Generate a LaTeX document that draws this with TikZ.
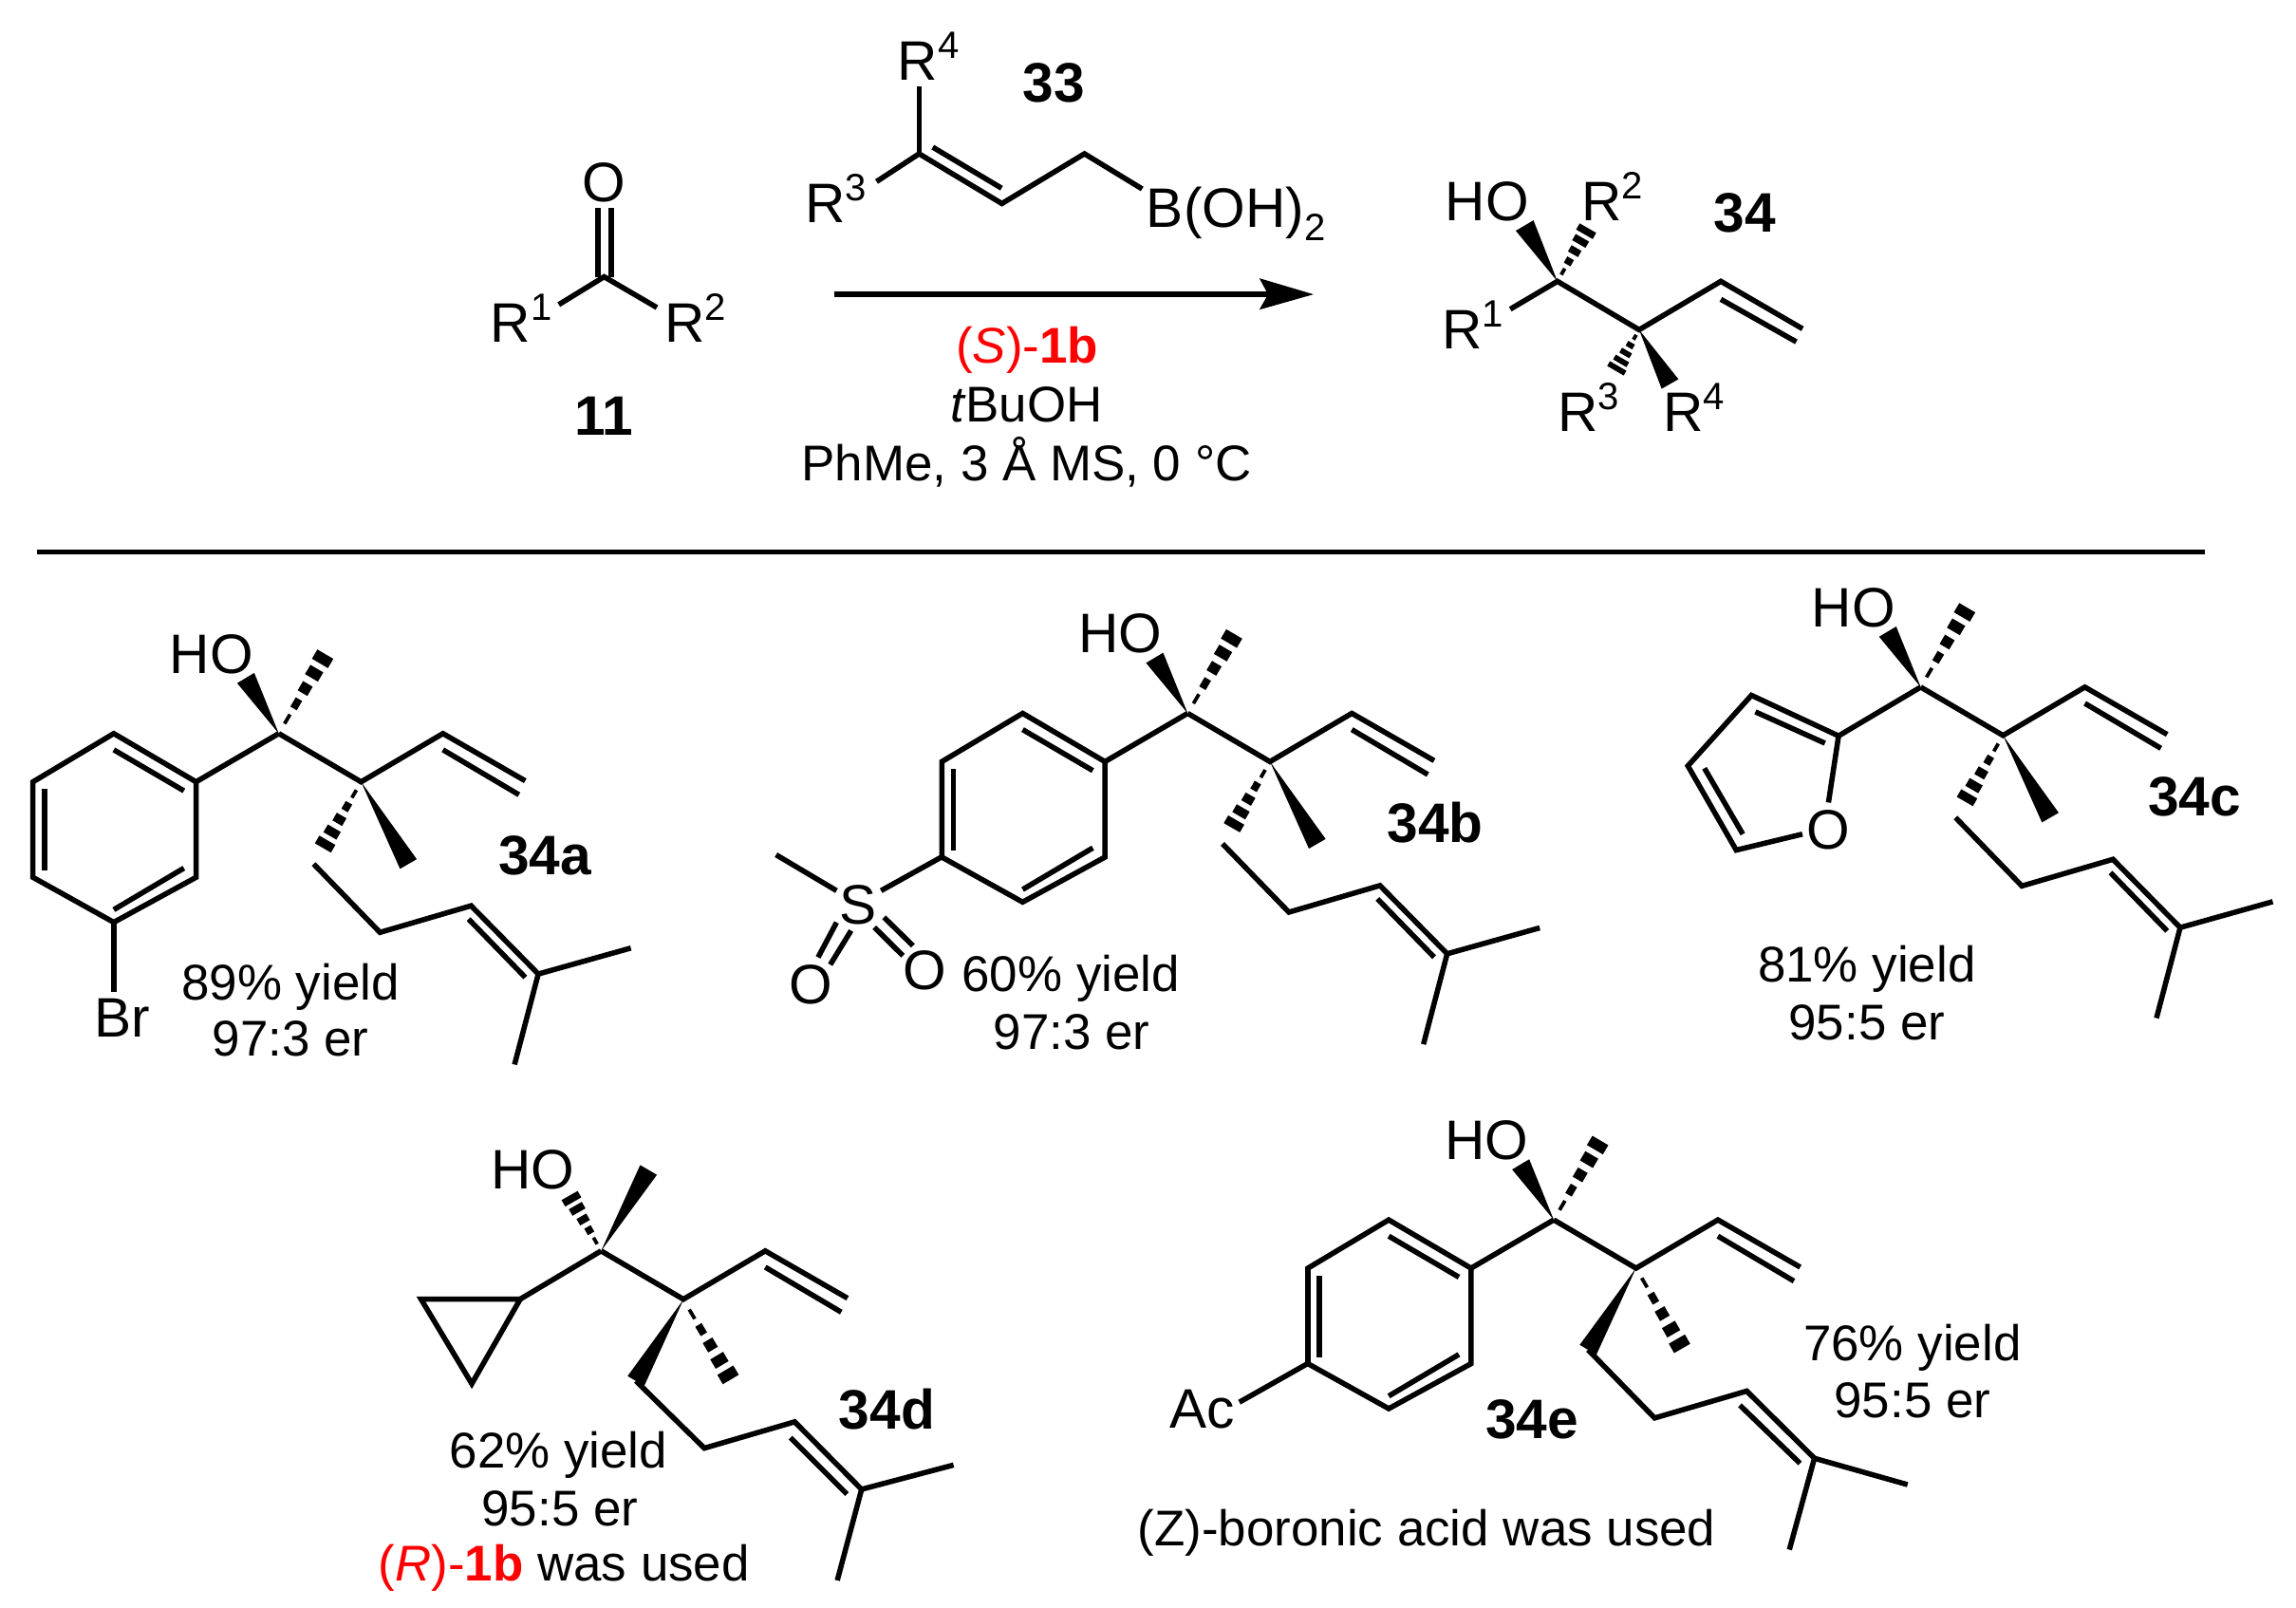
\documentclass[tikz,border=0pt]{standalone}
\usepackage{fontspec}
\setmainfont{Liberation Sans}
\usetikzlibrary{calc}
\definecolor{hl}{RGB}{255,0,0}
\newcommand{\labf}{\fontsize{38}{38}\selectfont}
\newcommand{\capf}{\fontsize{34.3}{34.3}\selectfont}
\newcommand{\supr}[1]{\raisebox{15pt}{\fontsize{26}{26}\selectfont #1}}
\newcommand{\subr}[1]{\raisebox{-9pt}{\fontsize{26}{26}\selectfont #1}}
\tikzset{
  bond/.style={line width=3.6pt,line cap=butt,line join=miter,miter limit=10},
  lbl/.style={anchor=base west,inner sep=0pt,outer sep=0pt,font=\labf},
  cpt/.style={anchor=base,inner sep=0pt,outer sep=0pt,font=\capf},
  cptw/.style={anchor=base west,inner sep=0pt,outer sep=0pt,font=\capf}
}
% filled wedge from atom (#1,#2) to wide end (#3,#4), half width #5
\newcommand{\wedgeb}[5]{%
  \pgfmathsetmacro\lenb{veclen(#3-#1,#4-#2)}%
  \pgfmathsetmacro\nxb{-(#4-#2)/\lenb*#5}%
  \pgfmathsetmacro\nyb{(#3-#1)/\lenb*#5}%
  \fill (#1,#2) -- ({#3+\nxb},{#4+\nyb}) -- ({#3-\nxb},{#4-\nyb}) -- cycle;}
% hashed wedge
\newcommand{\hashb}[5]{%
  \pgfmathsetmacro\lenb{veclen(#3-#1,#4-#2)}%
  \pgfmathsetmacro\nxb{-(#4-#2)/\lenb*#5}%
  \pgfmathsetmacro\nyb{(#3-#1)/\lenb*#5}%
  \pgfmathsetmacro\thb{\lenb*0.115}%
  \foreach \tb in {.18,.37,.56,.75,.93}{%
    \draw[line width=\thb pt,line cap=butt]
      ({#1+\tb*(#3-#1)+\tb*\nxb},{#2+\tb*(#4-#2)+\tb*\nyb}) --
      ({#1+\tb*(#3-#1)-\tb*\nxb},{#2+\tb*(#4-#2)-\tb*\nyb});}}
% backbone shared by all side chains: carbinol, quaternary C, vinyl
\newcommand{\backbone}{%
  \draw[bond] (190.4,500.9) -- (246.6,533.9) -- (302.5,500.9) -- (358.7,533.2);
  \draw[bond] (302.5,512) -- (354.4,542.7);}
% OH wedge, methyl hash
\newcommand{\oh}[1]{%
  \node[lbl] (#1ho) at (116,459.7) {HO};
  \wedgeb{190.4}{500.9}{167.8}{463}{6.8}
  \hashb{190.4}{500.9}{222.6}{446}{6.8}}
\newcommand{\chainA}{%
  \wedgeb{246.6}{533.9}{278.9}{590}{6.6}
  \hashb{246.6}{533.9}{220.2}{579.6}{6.8}
  \draw[bond] (214.2,590) -- (259.5,636.7) -- (321.7,618.5) -- (367.6,665.1) -- (430.8,647.4);
  \draw[bond] (367.6,665.1) -- (351.4,726.9);
  \draw[bond] (320,627.6) -- (358.7,667.4);}
\newcommand{\benzene}{%
  \draw[bond] (190.4,500.9) -- (133.9,533.9);
  \draw[bond] (77.7,500.9) -- (133.9,533.9) -- (133.9,599.1) -- (77.7,629.8) -- (22.5,599.1) -- (22.5,533.9) -- cycle;
  \draw[bond] (77.7,512) -- (125.6,540);
  \draw[bond] (30.4,538.9) -- (30.4,594.6);
  \draw[bond] (125.6,592.8) -- (77.7,621.2);}
\begin{document}
\begin{tikzpicture}[x=1pt,y=-1pt]
\useasboundingbox (0,0) rectangle (1568,1098);
\fill[white] (0,0) rectangle (1568,1098);

% ---- ketone 11
\node[lbl,anchor=center] (ko) at (412.6,124.5) {O};
\draw[bond] (408.3,142) -- (408.3,189);
\draw[bond] (417.5,142) -- (417.5,189);
\draw[bond] (381.6,208) -- (412.6,189) -- (448.6,210);
\node[lbl] (kr1) at (335,233.5) {R\supr{1}};
\node[lbl] (kr2) at (454,233.5) {R\supr{2}};
\node[lbl,anchor=base,font=\labf\bfseries] (n11) at (412.6,297) {11};

% ---- boronic acid 33
\node[lbl] (br4) at (613,55) {R\supr{4}};
\node[lbl] (br3) at (550,152) {R\supr{3}};
\node[lbl] (bb) at (783,155) {B(OH)\subr{2}};
\node[lbl,anchor=base,font=\labf\bfseries] (n33) at (719.5,70) {33};
\draw[bond] (627.7,59) -- (627.7,105);
\draw[bond] (598.6,124) -- (627.7,105) -- (684.2,139) -- (740.6,105) -- (780,129);
\draw[bond] (637,100.5) -- (684,128.5);

% ---- arrow
\coordinate (as) at (569.5,201);
\coordinate (ae) at (866,201);
\draw[line width=3.6pt] (as) -- (ae);
\fill (860,190) -- (897,201) -- (860,211.5) -- (866,201) -- cycle;
\node[cpt] (c1) at (701.5,248) {\textcolor{hl}{(\textit{S})-\textbf{1b}}};
\node[cpt] (c2) at (701,288) {\textit{t}BuOH};
\node[cpt] (c3) at (701,328) {PhMe, 3 Å MS, 0 °C};

% ---- product 34
\draw[bond] (1031.4,211.1) -- (1063.6,192.1) -- (1119.4,225.2) -- (1175.2,192.1) -- (1231,224.5);
\draw[bond] (1175.2,204.4) -- (1226.7,233.4);
\node[lbl] (pho) at (987,150.8) {HO};
\node[lbl] (pr2) at (1080,150.8) {R\supr{2}};
\node[lbl] (pr1) at (985,238.4) {R\supr{1}};
\node[lbl] (pr3) at (1064,294.4) {R\supr{3}};
\node[lbl] (pr4) at (1136,294.4) {R\supr{4}};
\node[lbl,anchor=base,font=\labf\bfseries] (n34) at (1191.5,158.2) {34};
\wedgeb{1063.6}{192.1}{1041.2}{154}{7}
\hashb{1063.6}{192.1}{1084.7}{155.3}{7}
\wedgeb{1119.4}{225.2}{1140.5}{262.2}{6.6}
\hashb{1119.4}{225.2}{1103}{253.5}{7}

% ---- separator
\draw[line width=3pt] (25,377) -- (1506,377);

% ---- 34a
\backbone \oh{a} \chainA \benzene
\draw[bond] (77.7,629.8) -- (77.7,677.6);
\node[lbl] (abr) at (64.5,708.3) {Br};
\node[cpt] (ay) at (198.4,682.6) {89\% yield};
\node[cpt] (ae2) at (198.4,721.2) {97:3 er};
\node[lbl,font=\labf\bfseries] (an) at (340.5,597.5) {34a};

% ---- 34b
\begin{scope}[shift={(620.7,-13.8)}]
\backbone \oh{b} \chainA \benzene
\end{scope}
\draw[bond] (530,583.7) -- (571.3,608.2);
\draw[bond] (643.4,585) -- (601.7,608.2);
\node[lbl,anchor=center] (bs) at (586.2,618) {S};
\draw[bond] (571.3,629.9) -- (558.7,653.7);
\draw[bond] (581.2,635.5) -- (567,658.7);
\draw[bond] (603.7,626.4) -- (623.5,645.8);
\draw[bond] (597.1,633.2) -- (616.6,652.6);
\node[lbl,anchor=center] (bo1) at (553.8,672.5) {O};
\node[lbl,anchor=center] (bo2) at (631.8,662.5) {O};
\node[cpt] (by) at (731.3,677.1) {60\% yield};
\node[cpt] (be) at (732,716.3) {97:3 er};
\node[lbl,font=\labf\bfseries] (bn) at (947.5,575.2) {34b};

% ---- 34c
\begin{scope}[shift={(1121.3,-31.7)}]
\backbone \oh{c} \chainA
\end{scope}
\draw[bond] (1311.7,469.2) -- (1255.6,502.5) -- (1196.1,474.8) -- (1152.7,523) -- (1185.7,580.5) -- (1230.9,569.6);
\draw[bond] (1255.6,502.5) -- (1248.7,548);
\draw[bond] (1198.8,486.1) -- (1246.3,507.5);
\draw[bond] (1164,524.6) -- (1190.2,569.6);
\node[lbl,anchor=center] (co) at (1248.7,566.8) {O};
\node[cpt] (cy) at (1274.9,670.8) {81\% yield};
\node[cpt] (ce) at (1274.9,709.9) {95:5 er};
\node[lbl,font=\labf\bfseries] (cn) at (1467,557.1) {34c};

% ---- 34d
\begin{scope}[shift={(220.1,353.3)}]
\backbone
\end{scope}
\draw[bond] (410.5,854.2) -- (355.3,887.1);
\draw[bond] (355.3,887.1) -- (287.5,887.1) -- (322.2,944.9) -- cycle;
\node[lbl] (dho) at (335.5,811.9) {HO};
\hashb{410.5}{854.2}{388.7}{815.9}{6.8}
\wedgeb{410.5}{854.2}{442.9}{798.9}{6.6}
\wedgeb{466.7}{887.5}{434.3}{943}{6.6}
\hashb{466.7}{887.5}{499.5}{942.7}{6.8}
\draw[bond] (434.3,943) -- (481,988.9) -- (542.7,970.9) -- (588.4,1017) -- (651.2,1000.4);
\draw[bond] (588.4,1017) -- (571.8,1079.2);
\draw[bond] (539.8,981.7) -- (578.4,1020.3);
\node[cpt] (dy) at (381.4,1002.5) {62\% yield};
\node[cpt] (de) at (382.4,1042) {95:5 er};
\node[cptw] (dn2) at (258.5,1079.5) {\textcolor{hl}{(\textit{R})-\textbf{1b}} was used};
\node[lbl,font=\labf\bfseries] (dn) at (573,975.9) {34d};

% ---- 34e
\begin{scope}[shift={(870.7,332.1)}]
\backbone \oh{e} \benzene
\end{scope}
\draw[bond] (892.9,931.2) -- (846.4,957.5);
\node[lbl] (eac) at (799,975.4) {Ac};
\wedgeb{1117.3}{865.9}{1084.5}{921.7}{6.6}
\hashb{1117.3}{865.9}{1149.2}{921.5}{6.8}
\draw[bond] (1084.5,921.7) -- (1130,968.3) -- (1192.9,949.9) -- (1239.1,995.8) -- (1302.7,1013.8);
\draw[bond] (1239.1,995.8) -- (1222,1058.2);
\draw[bond] (1188.2,959.6) -- (1229.3,999.3);
\node[cpt] (ey) at (1306,929.3) {76\% yield};
\node[cpt] (ee) at (1306,968.3) {95:5 er};
\node[lbl,font=\labf\bfseries] (en) at (1014.5,982.4) {34e};
\node[cptw] (en2) at (777,1055.5) {(Z)-boronic acid was used};
\end{tikzpicture}
\end{document}
